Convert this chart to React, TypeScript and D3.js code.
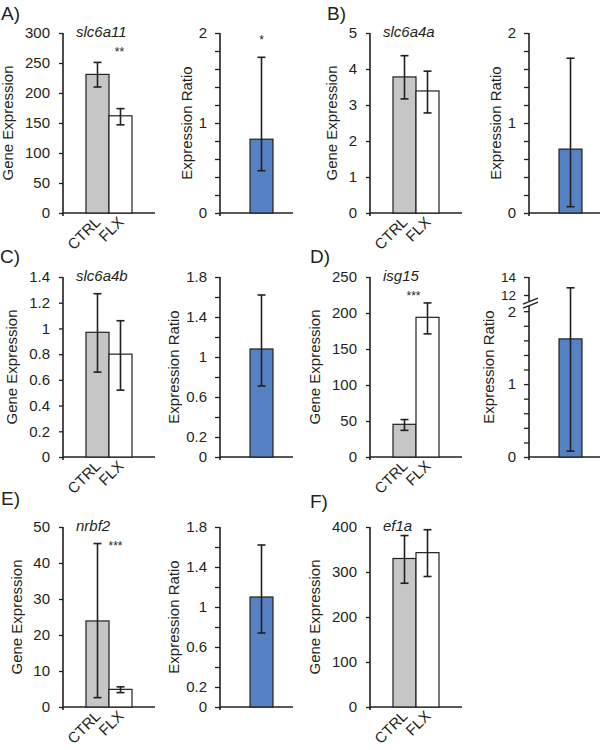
import React, { useEffect, useRef } from "react";
import * as d3 from "d3";

// data
const groups = ["CTRL", "FLX"];
const panelLabels = ["A)", "B)", "C)", "D)", "E)", "F)"];
const geneNames = ["slc6a11", "slc6a4a", "slc6a4b", "isg15", "nrbf2", "ef1a"];

const geneMean = [[231, 162], [3.78, 3.39], [0.97, 0.8], [45.4, 194], [23.9, 4.9], [330, 343]];
const geneLow = [[210, 147], [3.17, 2.78], [0.66, 0.52], [37, 171], [2.6, 4.0], [275, 290]];
const geneHigh = [[251, 174], [4.37, 3.94], [1.27, 1.06], [52, 214], [45.4, 5.6], [381, 394]];
const geneMax = [300, 5, 1.4, 250, 50, 400];
const geneStep = [50, 1, 0.2, 50, 10, 100];
const geneSig = ["**", "", "", "***", "***", ""];

const ratioMean = [0.82, 0.71, 1.08, 1.62, 1.1, null];
const ratioLow = [0.47, 0.07, 0.71, 0.08, 0.74, null];
const ratioHigh = [1.73, 1.72, 1.62, 12.8, 1.62, null];
const ratioMax = [2, 2, 1.8, 2, 1.8, 0];
const ratioTickLabels = [[0, 1, 2], [0, 1, 2], [0, 0.2, 0.6, 1, 1.4, 1.8], [0, 1, 2], [0, 0.2, 0.6, 1, 1.4, 1.8], []];
const ratioSig = ["*", "", "", "", "", ""];
// upper part of the broken axis in D
const brokenUpper = [null, null, null, [12, 14], null, null];

// layout
const ROWS = [{ top: 33, bottom: 213 }, { top: 277, bottom: 457 }, { top: 527, bottom: 707 }];
const COLS = [{ gene: 63, ratio: 220 }, { gene: 370, ratio: 529 }];
const LABEL_POS = [[1, 20], [327, 20], [0, 263], [310, 263], [1, 505], [310, 508]];
const SIG_DX = [-1, 0, 0, -14, -5, 0];

const INK = "#231f20";
const FONT = "'Liberation Sans', Arial, Helvetica, sans-serif";

const fmt = (v: number) => String(+v.toFixed(2));

function styleAxis(ax: any, size = 15) {
  ax.select(".domain").remove();
  ax.selectAll(".tick line").attr("stroke", INK).attr("stroke-width", 1.3);
  ax.selectAll(".tick text").attr("fill", INK).attr("font-size", size).attr("font-family", FONT);
}

function drawPanel(svg: any, i: number) {
  const col = COLS[i % 2];
  const row = ROWS[Math.floor(i / 2)];
  const g = svg.append("g");

  g.append("text")
    .attr("x", LABEL_POS[i][0])
    .attr("y", LABEL_POS[i][1])
    .attr("font-size", 19)
    .attr("fill", INK)
    .text(panelLabels[i]);

  // gene expression bars
  const x = d3.scaleBand().domain(groups).range([col.gene, col.gene + 92]).paddingInner(0).paddingOuter(1);
  const y = d3.scaleLinear().domain([0, geneMax[i]]).range([row.bottom, row.top]);
  const ticks = d3.range(0, Math.round(geneMax[i] / geneStep[i]) + 1).map((k) => +(k * geneStep[i]).toFixed(2));

  const ax = g.append("g")
    .attr("transform", `translate(${col.gene},0)`)
    .call(d3.axisLeft(y).tickValues(ticks).tickFormat(fmt as any).tickSize(4).tickSizeOuter(0).tickPadding(9));
  styleAxis(ax);
  const axBox = ax.node().getBBox();

  g.append("line")
    .attr("x1", col.gene).attr("x2", col.gene)
    .attr("y1", row.top).attr("y2", row.bottom + 3)
    .attr("stroke", INK).attr("stroke-width", 1.6);
  g.append("line")
    .attr("x1", col.gene).attr("x2", col.gene + 92)
    .attr("y1", row.bottom).attr("y2", row.bottom)
    .attr("stroke", INK).attr("stroke-width", 1.6);

  g.selectAll(".gbar")
    .data(groups)
    .enter().append("rect")
    .attr("x", (d: string) => x(d))
    .attr("width", x.bandwidth())
    .attr("y", (d: string, k: number) => y(geneMean[i][k]))
    .attr("height", (d: string, k: number) => row.bottom - y(geneMean[i][k]))
    .attr("fill", (d: string, k: number) => (k === 0 ? "#c5c6c5" : "#ffffff"))
    .attr("stroke", INK)
    .attr("stroke-width", 1.2);

  groups.forEach((grp, k) => {
    const cx = (x(grp) as number) + x.bandwidth() / 2;
    g.append("line")
      .attr("x1", cx).attr("x2", cx)
      .attr("y1", y(geneLow[i][k])).attr("y2", y(geneHigh[i][k]))
      .attr("stroke", INK).attr("stroke-width", 1.6);
    [geneLow[i][k], geneHigh[i][k]].forEach((v) => {
      g.append("line")
        .attr("x1", cx - 4).attr("x2", cx + 4)
        .attr("y1", y(v)).attr("y2", y(v))
        .attr("stroke", INK).attr("stroke-width", 1.6);
    });
    g.append("text")
      .attr("transform", `translate(${cx + 4},${row.bottom + 10}) rotate(-45)`)
      .attr("text-anchor", "end")
      .attr("font-size", 15)
      .attr("fill", INK)
      .text(grp);
  });

  g.append("text")
    .attr("x", col.gene + 13)
    .attr("y", row.top + 4)
    .attr("font-size", 15)
    .attr("font-style", "italic")
    .attr("fill", INK)
    .text(geneNames[i]);

  if (geneSig[i]) {
    const cx = (x("FLX") as number) + x.bandwidth() / 2 + SIG_DX[i];
    g.append("text")
      .attr("x", cx)
      .attr("y", row.top + 23)
      .attr("text-anchor", "middle")
      .attr("font-size", 12)
      .attr("fill", INK)
      .text(geneSig[i]);
  }

  g.append("text")
    .attr("transform", `translate(${axBox.x + col.gene - 17},${(row.top + row.bottom) / 2}) rotate(-90)`)
    .attr("dy", "0.35em")
    .attr("text-anchor", "middle")
    .attr("font-size", 15)
    .attr("fill", INK)
    .text("Gene Expression");

  // expression ratio bar
  const mean = ratioMean[i];
  if (mean == null) return;
  const rx = col.ratio;
  const xr = d3.scaleBand().domain(["ratio"]).range([rx, rx + 73]).paddingInner(0).paddingOuter(1.09).align(0.6);
  const upper = brokenUpper[i];
  const h = row.bottom - row.top;
  const lowScale = d3.scaleLinear().domain([0, ratioMax[i]])
    .range([row.bottom, upper ? row.bottom - h * 0.81 : row.top]);
  const highScale = upper ? d3.scaleLinear().domain(upper).range([row.top + h * 0.1, row.top]) : null;
  const yr = (v: number) => (highScale && v > ratioMax[i] ? highScale(v) : lowScale(v));

  const minor = d3.range(0, Math.round(ratioMax[i] / 0.2) + 1).map((k) => +(k * 0.2).toFixed(1));
  const labelled = ratioTickLabels[i];
  const rax = g.append("g")
    .attr("transform", `translate(${rx},0)`)
    .call(d3.axisLeft(lowScale).tickValues(minor)
      .tickFormat(((v: number) => (labelled.some((l) => Math.abs(l - v) < 1e-6) ? fmt(v) : "")) as any)
      .tickSize(5).tickSizeOuter(0).tickPadding(8));
  styleAxis(rax);
  let boxX = rax.node().getBBox().x;
  if (highScale && upper) {
    const hax = g.append("g")
      .attr("transform", `translate(${rx},0)`)
      .call(d3.axisLeft(highScale).tickValues(upper).tickFormat(fmt as any).tickSize(5).tickSizeOuter(0).tickPadding(8));
    styleAxis(hax, 13.5);
    boxX = Math.min(boxX, hax.node().getBBox().x);
  }

  if (highScale && upper) {
    const yLowTop = lowScale(ratioMax[i]);
    const yHighBot = highScale(upper[0]);
    const mid = (yLowTop + yHighBot) / 2;
    g.append("line").attr("x1", rx).attr("x2", rx).attr("y1", row.top).attr("y2", mid - 2)
      .attr("stroke", INK).attr("stroke-width", 1.6);
    g.append("line").attr("x1", rx).attr("x2", rx).attr("y1", mid + 3).attr("y2", row.bottom + 3)
      .attr("stroke", INK).attr("stroke-width", 1.6);
    [-2, 2].forEach((o) => {
      g.append("line")
        .attr("x1", rx - 6).attr("x2", rx + 9)
        .attr("y1", mid + o + 3).attr("y2", mid + o - 3)
        .attr("stroke", INK).attr("stroke-width", 1.4);
    });
  } else {
    g.append("line").attr("x1", rx).attr("x2", rx).attr("y1", row.top).attr("y2", row.bottom + 3)
      .attr("stroke", INK).attr("stroke-width", 1.6);
  }
  g.append("line")
    .attr("x1", rx).attr("x2", rx + 73)
    .attr("y1", row.bottom).attr("y2", row.bottom)
    .attr("stroke", INK).attr("stroke-width", 1.6);

  g.append("rect")
    .attr("x", xr("ratio"))
    .attr("width", xr.bandwidth())
    .attr("y", yr(mean))
    .attr("height", row.bottom - yr(mean))
    .attr("fill", "#5682c3")
    .attr("stroke", INK)
    .attr("stroke-width", 1.2);

  const cxr = (xr("ratio") as number) + xr.bandwidth() / 2;
  const lo = ratioLow[i] as number;
  const hi = ratioHigh[i] as number;
  g.append("line")
    .attr("x1", cxr).attr("x2", cxr)
    .attr("y1", yr(lo)).attr("y2", yr(hi))
    .attr("stroke", INK).attr("stroke-width", 1.6);
  [lo, hi].forEach((v) => {
    g.append("line")
      .attr("x1", cxr - 4).attr("x2", cxr + 4)
      .attr("y1", yr(v)).attr("y2", yr(v))
      .attr("stroke", INK).attr("stroke-width", 1.6);
  });

  if (ratioSig[i]) {
    g.append("text")
      .attr("x", cxr)
      .attr("y", row.top + 11)
      .attr("text-anchor", "middle")
      .attr("font-size", 12)
      .attr("fill", INK)
      .text(ratioSig[i]);
  }

  g.append("text")
    .attr("transform", `translate(${boxX + rx - 12},${(row.top + row.bottom) / 2}) rotate(-90)`)
    .attr("dy", "0.35em")
    .attr("text-anchor", "middle")
    .attr("font-size", 15)
    .attr("fill", INK)
    .text("Expression Ratio");
}

const App = () => {
  const svgRef = useRef<SVGSVGElement>(null);

  useEffect(() => {
    const svg = d3.select(svgRef.current);
    svg.selectAll("*").remove();
    svg.append("rect").attr("width", 600).attr("height", 750).attr("fill", "#fff");
    panelLabels.forEach((_, i) => drawPanel(svg, i));
  }, []);

  return (
    <svg
      ref={svgRef}
      width={600}
      height={750}
      fontFamily={FONT}
      style={{ position: "absolute", left: 0, top: 0, display: "block" }}
    ></svg>
  );
};

export default App;
